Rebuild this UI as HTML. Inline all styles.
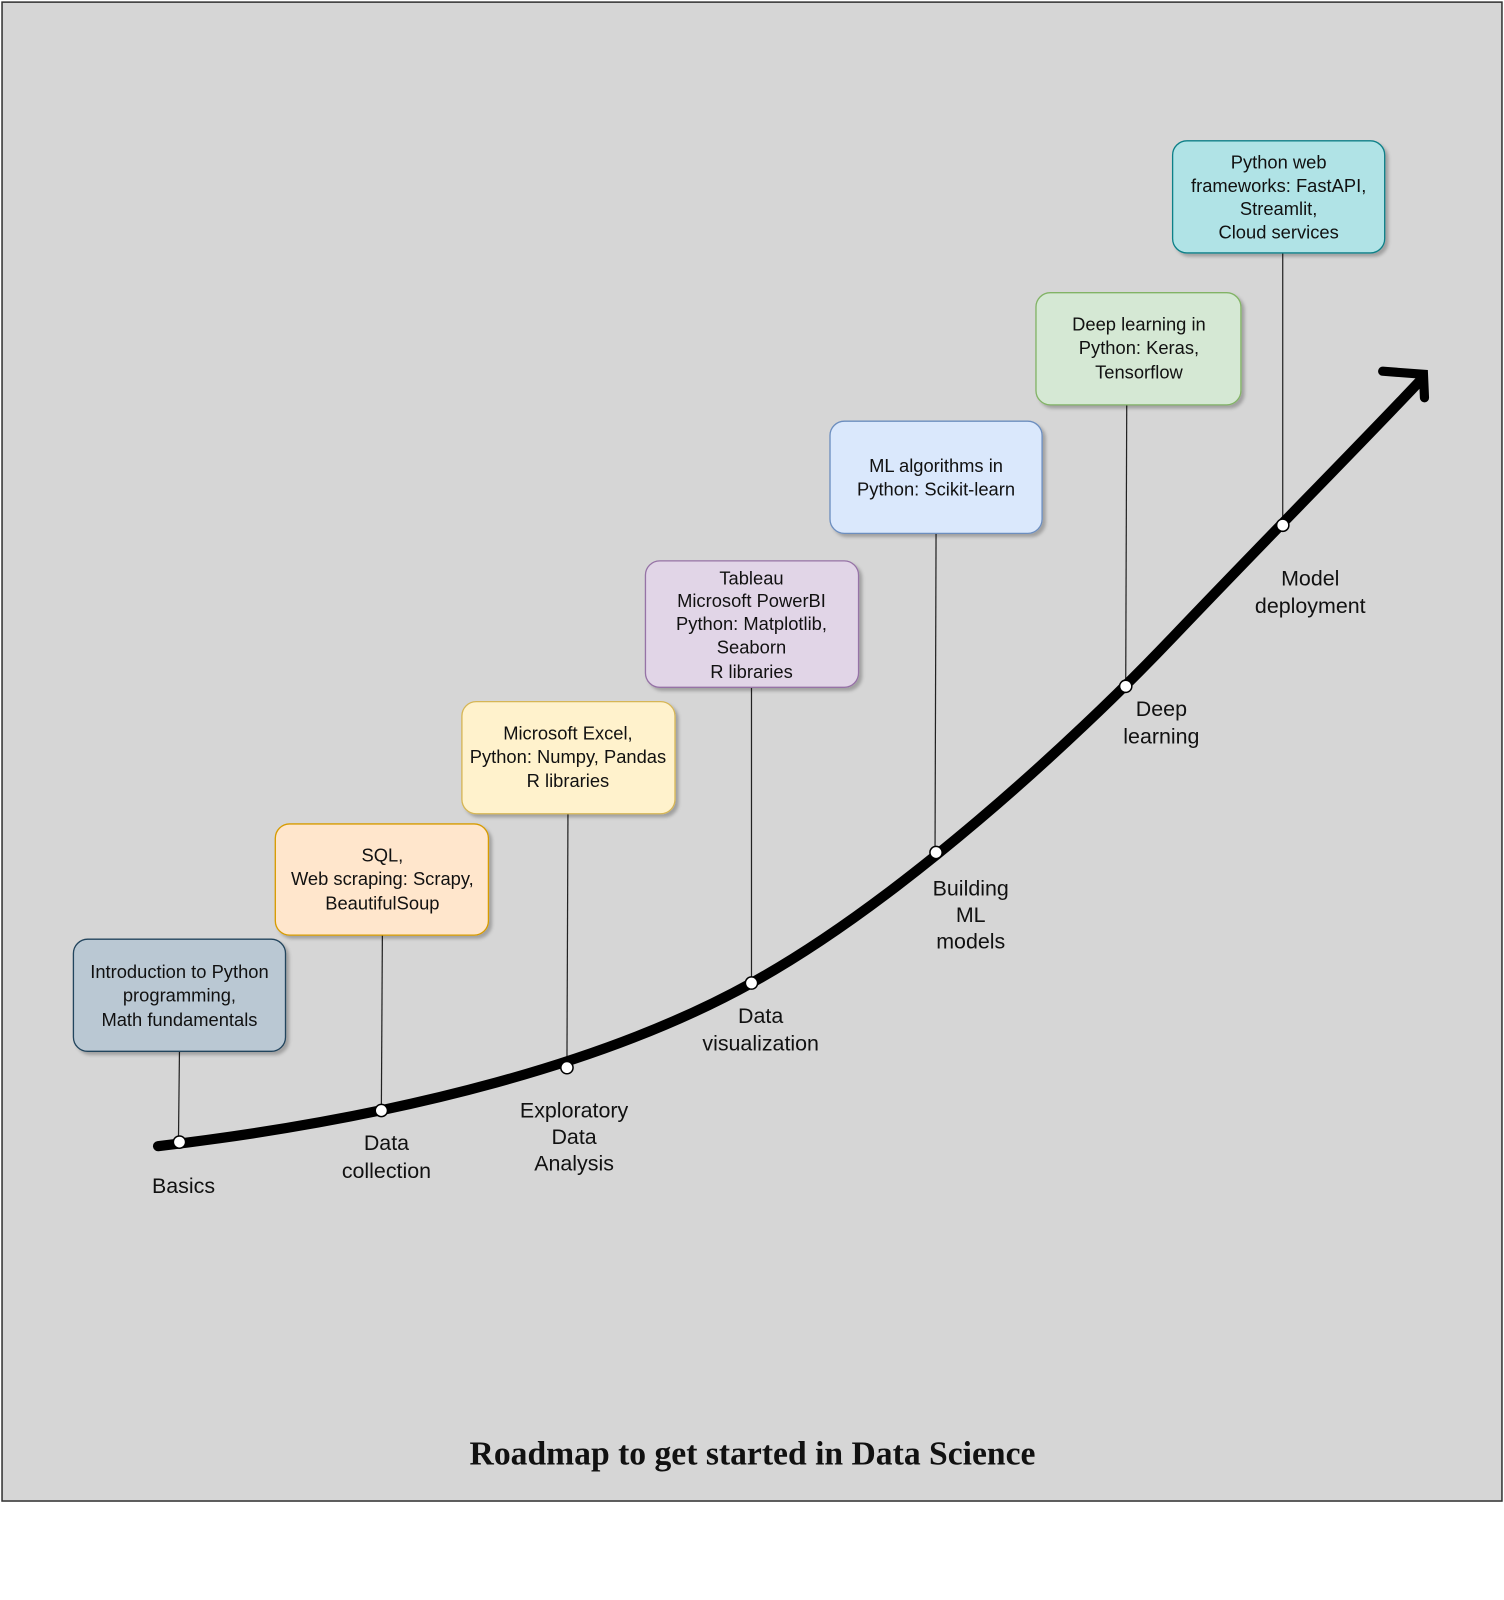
<!DOCTYPE html>
<html><head><meta charset="utf-8"><style>
html,body{margin:0;padding:0;background:#fff;}
svg{display:block;}
.t{font-family:"Liberation Sans",sans-serif;font-size:18px;fill:#111;text-anchor:middle;}
.l{font-family:"Liberation Sans",sans-serif;font-size:21px;fill:#111;text-anchor:middle;}
</style></head><body>
<svg width="1504" height="1600" viewBox="0 0 1475 1569" xmlns="http://www.w3.org/2000/svg">
<defs><filter id="sh" x="-10%" y="-10%" width="130%" height="130%"><feDropShadow dx="3" dy="3" stdDeviation="1.5" flood-color="#000" flood-opacity="0.25"/></filter></defs>
<rect x="2" y="2" width="1471" height="1470" fill="#d6d6d6" stroke="#333" stroke-width="1.5"/>
<g stroke="#222" stroke-width="1.2">
<line x1="176" y1="1031" x2="175" y2="1120"/>
<line x1="375" y1="917" x2="374" y2="1089"/>
<line x1="557" y1="798" x2="556" y2="1047"/>
<line x1="737" y1="674" x2="737" y2="964"/>
<line x1="918" y1="523" x2="917" y2="836"/>
<line x1="1105" y1="397" x2="1104" y2="673"/>
<line x1="1258" y1="248" x2="1258" y2="515"/>
</g>
<path d="M155,1124 C400,1095 600,1040 737,964 C880,885 1050,730 1150,625 C1250,520 1330,440 1394,372" fill="none" stroke="#000" stroke-width="10" stroke-linecap="round"/>
<path d="M1356,364 L1396,367 L1397,390" fill="none" stroke="#000" stroke-width="9" stroke-linecap="round" stroke-linejoin="miter"/>
<g fill="#fff" stroke="#000" stroke-width="1.5">
<circle cx="176" cy="1120" r="6"/><circle cx="374" cy="1089" r="6"/><circle cx="556" cy="1047" r="6"/><circle cx="737" cy="964" r="6"/><circle cx="918" cy="836" r="6"/><circle cx="1104" cy="673" r="6"/><circle cx="1258" cy="515" r="6"/>
</g>
<g filter="url(#sh)" stroke-width="1.3">
<rect x="72" y="921" width="208" height="110" rx="14" fill="#bac8d3" stroke="#23445d"/>
<rect x="270" y="808" width="209" height="109" rx="14" fill="#ffe6cc" stroke="#d79b00"/>
<rect x="453" y="688" width="209" height="110" rx="14" fill="#fff2cc" stroke="#d6b656"/>
<rect x="633" y="550" width="209" height="124" rx="14" fill="#e1d5e7" stroke="#9673a6"/>
<rect x="814" y="413" width="208" height="110" rx="14" fill="#dae8fc" stroke="#6c8ebf"/>
<rect x="1016" y="287" width="201" height="110" rx="14" fill="#d5e8d4" stroke="#82b366"/>
<rect x="1150" y="138" width="208" height="110" rx="14" fill="#b0e3e6" stroke="#0e8088"/>
</g>
<text class="t"><tspan x="176" y="959">Introduction to Python</tspan><tspan x="176" y="982">programming,</tspan><tspan x="176" y="1006">Math fundamentals</tspan></text>
<text class="t"><tspan x="375" y="845">SQL,</tspan><tspan x="375" y="868">Web scraping: Scrapy,</tspan><tspan x="375" y="892">BeautifulSoup</tspan></text>
<text class="t"><tspan x="557" y="725">Microsoft Excel,</tspan><tspan x="557" y="748">Python: Numpy, Pandas</tspan><tspan x="557" y="772">R libraries</tspan></text>
<text class="t"><tspan x="737" y="573">Tableau</tspan><tspan x="737" y="595">Microsoft PowerBI</tspan><tspan x="737" y="618">Python: Matplotlib,</tspan><tspan x="737" y="641">Seaborn</tspan><tspan x="737" y="665">R libraries</tspan></text>
<text class="t"><tspan x="918" y="463">ML algorithms in</tspan><tspan x="918" y="486">Python: Scikit-learn</tspan></text>
<text class="t"><tspan x="1117" y="324">Deep learning in</tspan><tspan x="1117" y="347">Python: Keras,</tspan><tspan x="1117" y="371">Tensorflow</tspan></text>
<text class="t"><tspan x="1254" y="165">Python web</tspan><tspan x="1254" y="188">frameworks: FastAPI,</tspan><tspan x="1254" y="211">Streamlit,</tspan><tspan x="1254" y="234">Cloud services</tspan></text>
<text class="l"><tspan x="180" y="1170">Basics</tspan></text>
<text class="l"><tspan x="379" y="1128">Data</tspan><tspan x="379" y="1155">collection</tspan></text>
<text class="l"><tspan x="563" y="1096">Exploratory</tspan><tspan x="563" y="1122">Data</tspan><tspan x="563" y="1148">Analysis</tspan></text>
<text class="l"><tspan x="746" y="1003">Data</tspan><tspan x="746" y="1030">visualization</tspan></text>
<text class="l"><tspan x="952" y="878">Building</tspan><tspan x="952" y="904">ML</tspan><tspan x="952" y="930">models</tspan></text>
<text class="l"><tspan x="1139" y="702">Deep</tspan><tspan x="1139" y="729">learning</tspan></text>
<text class="l"><tspan x="1285" y="574">Model</tspan><tspan x="1285" y="601">deployment</tspan></text>
<text x="738" y="1436" text-anchor="middle" font-family="Liberation Serif,serif" font-weight="bold" font-size="33" fill="#111">Roadmap to get started in Data Science</text>
</svg>
</body></html>
